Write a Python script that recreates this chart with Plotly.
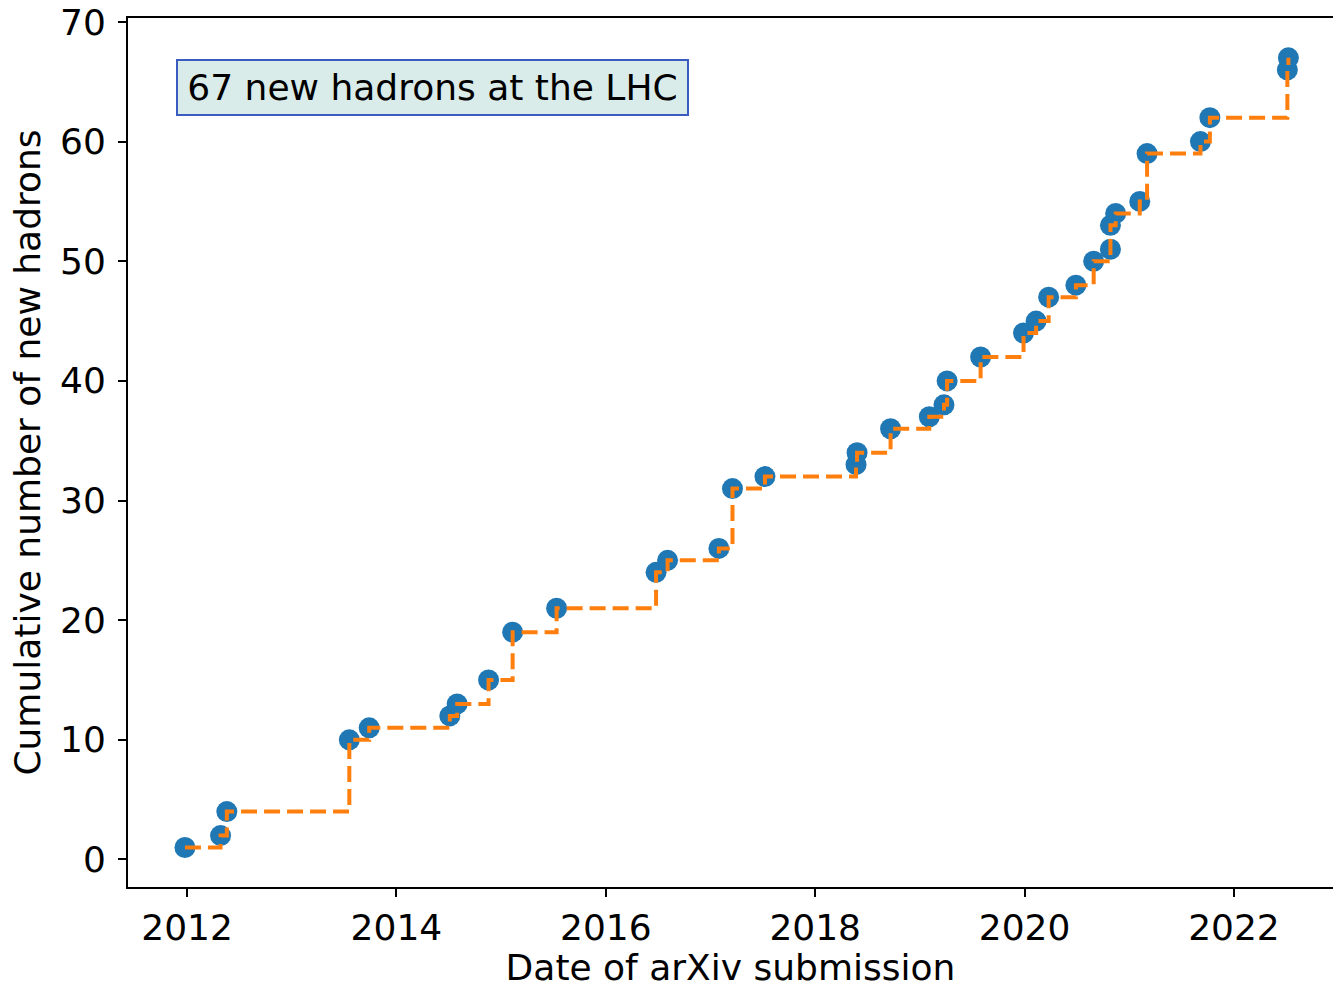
import plotly.graph_objects as go

# Submission dates (decimal years) and cumulative count of new hadrons
submission_year = [
    2011.98, 2012.32, 2012.38, 2013.55, 2013.74, 2014.51, 2014.58, 2014.88,
    2015.11, 2015.53, 2016.48, 2016.59, 2017.08, 2017.21, 2017.52, 2018.39,
    2018.40, 2018.72, 2019.09, 2019.23, 2019.26, 2019.58, 2019.99, 2020.11,
    2020.23, 2020.49, 2020.66, 2020.82, 2020.82, 2020.87, 2021.10, 2021.17,
    2021.68, 2021.77, 2022.51, 2022.52,
]
cumulative_hadrons = [
    1, 2, 4, 10, 11, 12, 13, 15,
    19, 21, 24, 25, 26, 31, 32, 33,
    34, 36, 37, 38, 40, 42, 44, 45,
    47, 48, 50, 51, 53, 54, 55, 59,
    60, 62, 66, 67,
]
year_ticks = [2012, 2014, 2016, 2018, 2020, 2022]
count_ticks = [0, 10, 20, 30, 40, 50, 60, 70]
box_label = "67 new hadrons at the LHC"

FONT = "DejaVu Sans"
FS = 36

fig = go.Figure()

fig.add_trace(go.Scatter(
    x=submission_year, y=cumulative_hadrons, mode="markers",
    marker=dict(color="#1f77b4", size=21, line=dict(width=0)),
    showlegend=False, hoverinfo="x+y",
))
fig.add_trace(go.Scatter(
    x=submission_year, y=cumulative_hadrons, mode="lines",
    line=dict(color="#ff7f0e", width=4, shape="hv", dash="16px,7px"),
    showlegend=False, hoverinfo="skip",
))

fig.add_annotation(
    x=2011.895, y=66.9, xref="x", yref="y",
    xanchor="left", yanchor="top",
    text=box_label, showarrow=False,
    width=497, height=41, align="center", valign="middle",
    font=dict(family=FONT, size=FS, color="black"),
    bgcolor="#d9ecea", bordercolor="#3a5cc0", borderwidth=2, borderpad=6,
)

fig.update_layout(
    width=1333, height=988,
    margin=dict(l=128, r=0, t=18, b=101),
    paper_bgcolor="white", plot_bgcolor="white",
    font=dict(family=FONT, size=FS, color="black"),
)
fig.update_xaxes(
    range=[2011.436, 2022.946], tickvals=year_ticks, ticktext=[str(v) for v in year_ticks],
    showgrid=False, zeroline=False,
    showline=True, linecolor="black", linewidth=2, mirror=True,
    ticks="outside", ticklen=8, tickwidth=2, tickcolor="black",
    title=dict(text="Date of arXiv submission", standoff=4, font=dict(size=FS)),
)
fig.update_yaxes(
    range=[-2.3, 70.33], tickvals=count_ticks,
    showgrid=False, zeroline=False,
    showline=True, linecolor="black", linewidth=2,
    ticks="outside", ticklen=8, tickwidth=2, tickcolor="black",
    ticklabelstandoff=5,
    title=dict(text="Cumulative number of new hadrons", standoff=8, font=dict(size=FS)),
)

fig.write_html("out.html")
